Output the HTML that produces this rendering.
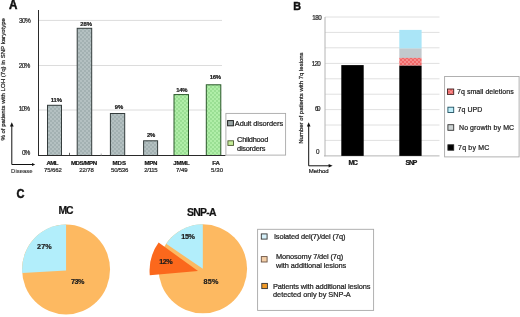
<!DOCTYPE html>
<html><head><meta charset="utf-8">
<style>
html,body{margin:0;padding:0;background:#fff;}
body{width:520px;height:317px;overflow:hidden;}
svg{display:block;font-family:"Liberation Sans",sans-serif;will-change:transform;}
text{stroke:#222;stroke-width:0.22px;}
</style></head>
<body>
<svg width="520" height="317" viewBox="0 0 520 317">
<defs>
<pattern id="pg" width="4" height="4" patternUnits="userSpaceOnUse">
<rect width="4" height="4" fill="#a3b1b2"/>
<circle cx="1" cy="1" r="0.9" fill="#bcc8c9"/>
<circle cx="3" cy="3" r="0.9" fill="#bcc8c9"/>
</pattern>
<pattern id="pgr" width="4" height="4" patternUnits="userSpaceOnUse">
<rect width="4" height="4" fill="#b0eea8"/>
<circle cx="1" cy="1" r="0.9" fill="#90d88a"/>
<circle cx="3" cy="3" r="0.9" fill="#90d88a"/>
</pattern>
<pattern id="pr" width="4" height="4" patternUnits="userSpaceOnUse">
<rect width="4" height="4" fill="#f06868"/>
<circle cx="1" cy="2" r="0.9" fill="#f8a0a0"/>
<circle cx="3" cy="0" r="0.9" fill="#f8a0a0"/>
<circle cx="3" cy="4" r="0.9" fill="#f8a0a0"/>
</pattern>
</defs>

<!-- ============ PANEL A ============ -->
<text x="9" y="8.6" font-size="12.5" font-weight="bold" fill="#111" style="stroke:#111;stroke-width:0.5px" textLength="8.4" lengthAdjust="spacingAndGlyphs">A</text>
<!-- gridlines -->
<g stroke="#dcdcdc" stroke-width="1">
<line x1="39" y1="20.4" x2="222" y2="20.4"/>
<line x1="39" y1="65.5" x2="222" y2="65.5"/>
<line x1="39" y1="110" x2="222" y2="110"/>
</g>
<!-- y labels -->
<g font-size="6.5" fill="#333" style="stroke-width:0.1px" lengthAdjust="spacingAndGlyphs">
<text x="19" y="22.9" textLength="11.8">30%</text>
<text x="18.8" y="67.9" textLength="11.6">20%</text>
<text x="18.8" y="111.2" textLength="11.2">10%</text>
<text x="22.1" y="154.9" textLength="8.2">0%</text>
</g>
<!-- bars -->
<g stroke="#343c3c" stroke-width="1">
<rect x="47.5" y="105.3" width="14" height="50.2" fill="url(#pg)"/>
<rect x="77.2" y="28.3" width="14.5" height="127.2" fill="url(#pg)"/>
<rect x="110.4" y="113.5" width="14.3" height="42" fill="url(#pg)"/>
<rect x="143.6" y="140.8" width="14" height="14.7" fill="url(#pg)"/>
</g>
<g stroke="#2a582a" stroke-width="1">
<rect x="174" y="94.6" width="14.5" height="60.9" fill="url(#pgr)"/>
<rect x="206.3" y="84.8" width="14.5" height="70.7" fill="url(#pgr)"/>
</g>
<!-- axes -->
<line x1="38.5" y1="10" x2="38.5" y2="156" stroke="#2a2a2a" stroke-width="1"/>
<line x1="38" y1="155.5" x2="225.5" y2="155.5" stroke="#2a2a2a" stroke-width="1"/>
<g stroke="#333" stroke-width="0.8">
<line x1="69.5" y1="152.8" x2="69.5" y2="155.5"/>
<line x1="101.2" y1="153.5" x2="101.2" y2="155.5" stroke="#999"/>
</g>
<!-- value labels -->
<g font-size="5.9" font-weight="bold" fill="#1a1a1a" stroke="#1a1a1a" stroke-width="0.2" lengthAdjust="spacingAndGlyphs">
<text x="50.8" y="102.2" textLength="11.2">11%</text>
<text x="80.2" y="25.5" textLength="11.8">28%</text>
<text x="114.8" y="109" textLength="8.4">9%</text>
<text x="146.9" y="136.9" textLength="8.4">2%</text>
<text x="176.3" y="91.7" textLength="11.3">14%</text>
<text x="209.8" y="79" textLength="11.3">16%</text>
</g>
<!-- category labels -->
<g font-size="6.1" font-weight="bold" fill="#111" style="stroke-width:0.1px" lengthAdjust="spacingAndGlyphs">
<text x="46.6" y="164.8" textLength="11.9">AML</text>
<text x="70.9" y="164.8" textLength="26.2">MDS/MPN</text>
<text x="112.5" y="164.8" textLength="13.5">MDS</text>
<text x="144.4" y="164.8" textLength="13">MPN</text>
<text x="173.3" y="164.8" textLength="16.5">JMML</text>
<text x="212.3" y="164.8" textLength="7.5">FA</text>
</g>
<g font-size="6" fill="#333" style="stroke-width:0.12px" lengthAdjust="spacingAndGlyphs">
<text x="44" y="172.3" textLength="17.9">75/662</text>
<text x="79.2" y="172.3" textLength="14.6">22/78</text>
<text x="111" y="172.3" textLength="17.3">50/536</text>
<text x="144.2" y="172.3" textLength="13.5">2/115</text>
<text x="176" y="172.3" textLength="11.5">7/49</text>
<text x="210.9" y="172.3" textLength="12.3">5/30</text>
</g>
<text x="11.1" y="173" font-size="6" fill="#333" style="stroke-width:0.12px" textLength="21.5" lengthAdjust="spacingAndGlyphs">Disease</text>
<!-- y axis title -->
<text transform="translate(4.6,140.6) rotate(-90)" font-size="6" fill="#222" textLength="122.6" lengthAdjust="spacingAndGlyphs">% of patients with LOH (7q) in  SNP karyotype</text>
<!-- arrow A -->
<path d="M11.8 125 V164.5 H33" fill="none" stroke="#111" stroke-width="1"/>
<path d="M11.8 122.3 L9.9 126.5 L13.7 126.5 Z" fill="#111"/>
<path d="M35.2 164.5 L32 162.9 L32 166.1 Z" fill="#111"/>
<!-- legend A -->
<rect x="225.9" y="113.4" width="59.7" height="41.7" fill="#fff" stroke="#a8a8a8" stroke-width="0.9"/>
<rect x="227.6" y="120.6" width="5.8" height="5.2" fill="#98a4a4" stroke="#222" stroke-width="1"/>
<rect x="227.9" y="140.8" width="5.6" height="4.6" fill="#c4ec98" stroke="#4a5a30" stroke-width="0.9"/>
<g font-size="7.4" fill="#222" lengthAdjust="spacingAndGlyphs">
<text x="234.8" y="126.1" textLength="48.3">Adult disorders</text>
<text x="237.1" y="142.2" textLength="31.2">Childhood</text>
<text x="237.1" y="150.8" textLength="28.3">disorders</text>
</g>

<!-- ============ PANEL B ============ -->
<text x="293.2" y="9.7" font-size="11" font-weight="bold" fill="#111" style="stroke:#111;stroke-width:0.45px" textLength="7.8" lengthAdjust="spacingAndGlyphs">B</text>
<g stroke="#e0e0e0" stroke-width="1">
<line x1="325" y1="17" x2="439.5" y2="17"/>
<line x1="325" y1="32.4" x2="439.5" y2="32.4"/>
<line x1="325" y1="47.8" x2="439.5" y2="47.8"/>
<line x1="325" y1="63.4" x2="439.5" y2="63.4"/>
<line x1="325" y1="78.8" x2="439.5" y2="78.8"/>
<line x1="325" y1="94.2" x2="439.5" y2="94.2"/>
<line x1="325" y1="109.6" x2="439.5" y2="109.6"/>
<line x1="325" y1="125" x2="439.5" y2="125"/>
<line x1="325" y1="140.4" x2="439.5" y2="140.4"/>
</g>
<line x1="325" y1="17" x2="325" y2="156.3" stroke="#b4b4b4" stroke-width="1"/>
<line x1="324" y1="155.9" x2="439.5" y2="155.9" stroke="#b4b4b4" stroke-width="1"/>
<g font-size="6.3" fill="#333" style="stroke:none" lengthAdjust="spacingAndGlyphs">
<text x="312.2" y="19.7" textLength="9.5">180</text>
<text x="311.7" y="65.9" textLength="9.1">120</text>
<text x="314.9" y="110.9" textLength="5.7">60</text>
<text x="316" y="154.2" textLength="3.2">0</text>
</g>
<!-- bars -->
<rect x="341.3" y="65.1" width="22.4" height="90.8" fill="#000"/>
<rect x="399.3" y="29.9" width="22.3" height="18.7" fill="#aae5f7"/>
<rect x="399.3" y="48.5" width="22.3" height="9.5" fill="#c2c9cd"/>
<rect x="399.3" y="57.9" width="22.3" height="7.8" fill="url(#pr)"/>
<rect x="399.3" y="65.7" width="22.3" height="90.2" fill="#000"/>
<g font-size="6.8" font-weight="bold" fill="#111" lengthAdjust="spacingAndGlyphs">
<text x="348.4" y="164.6" textLength="9.4">MC</text>
<text x="405.4" y="165" textLength="11.9">SNP</text>
</g>
<text transform="translate(302.6,143.7) rotate(-90)" font-size="6" fill="#222" textLength="91.3" lengthAdjust="spacingAndGlyphs">Number of patients with 7q lesions</text>
<!-- arrow B -->
<path d="M308.7 125 V165.8 H330" fill="none" stroke="#111" stroke-width="1"/>
<path d="M308.7 122.2 L306.9 126.4 L310.5 126.4 Z" fill="#111"/>
<path d="M332.6 165.8 L328.6 164 L328.6 167.6 Z" fill="#111"/>
<text x="308.7" y="172.6" font-size="6.1" fill="#222" textLength="20" lengthAdjust="spacingAndGlyphs">Method</text>
<!-- legend B -->
<rect x="444.6" y="76.5" width="74.5" height="80.4" fill="#fff" stroke="#a8a8a8" stroke-width="0.9"/>
<rect x="447.5" y="89" width="6.2" height="5.4" fill="url(#pr)" stroke="#402020" stroke-width="0.9"/>
<rect x="447.9" y="107.2" width="5.8" height="5.3" fill="#c0eefa" stroke="#205060" stroke-width="0.9"/>
<rect x="447.9" y="124.7" width="5.8" height="5.6" fill="#cdd3d3" stroke="#333" stroke-width="0.9"/>
<rect x="447.9" y="144.8" width="5.8" height="5.4" fill="#000" stroke="#222" stroke-width="0.9"/>
<g font-size="7" fill="#222" lengthAdjust="spacingAndGlyphs">
<text x="457.1" y="94.1" textLength="56.6">7q small deletions</text>
<text x="457.6" y="112.3" textLength="24.8">7q UPD</text>
<text x="459" y="130.2" textLength="55.1">No growth by MC</text>
<text x="458.1" y="150.1" textLength="31.2">7q by MC</text>
</g>

<!-- ============ PANEL C ============ -->
<text x="16.6" y="198" font-size="12.3" font-weight="bold" fill="#111" style="stroke:#111;stroke-width:0.45px" textLength="8" lengthAdjust="spacingAndGlyphs">C</text>
<g font-size="10.4" font-weight="bold" fill="#111" style="stroke:#111;stroke-width:0.3px" lengthAdjust="spacingAndGlyphs">
<text x="58.6" y="214" textLength="14.8">MC</text>
<text x="187" y="215.5" textLength="29.5">SNP-A</text>
</g>
<!-- MC pie -->
<ellipse cx="66.05" cy="269.5" rx="44" ry="44.9" fill="#fdb961"/>
<path d="M66.05 270.6 L66.05 224.6 A44 44.9 0 0 0 22.2 273 Z" fill="#b2eefb"/>
<!-- SNP pie -->
<ellipse cx="202.8" cy="268.8" rx="44.3" ry="44.55" fill="#fdb961"/>
<path d="M202.8 268.8 L202.8 224.25 A44.3 44.55 0 0 0 166.16 243.76 Z" fill="#b2eefb"/>
<path d="M198 271 L158.6 242.6 A48 48 0 0 0 149.8 275.3 Z" fill="#fb681c"/>
<g font-size="7.2" font-weight="bold" fill="#1a1a1a" style="stroke:#1a1a1a;stroke-width:0.35px" lengthAdjust="spacingAndGlyphs">
<text x="37.1" y="249.3" textLength="14.5">27%</text>
<text x="71" y="283.6" textLength="13.4">73%</text>
<text x="181.3" y="238.9" textLength="13.6">15%</text>
<text x="159.2" y="264.2" textLength="13.5">12%</text>
<text x="203.4" y="284.2" textLength="15">85%</text>
</g>
<!-- legend C -->
<rect x="257.6" y="229.3" width="116" height="81.1" fill="#fff" stroke="#a8a8a8" stroke-width="0.9"/>
<rect x="261.3" y="233.9" width="5.8" height="5.2" fill="#d6f1fa" stroke="#333" stroke-width="0.9"/>
<rect x="261.3" y="256.6" width="5.8" height="5.4" fill="#f3cfa8" stroke="#6a5040" stroke-width="0.9"/>
<rect x="261.8" y="283.4" width="5.6" height="5.2" fill="#f09a28" stroke="#333" stroke-width="0.9"/>
<g font-size="7.4" fill="#222" lengthAdjust="spacingAndGlyphs">
<text x="273.9" y="238.9" textLength="71.5">Isolated del(7)/del (7q)</text>
<text x="276" y="259.4" textLength="67.3">Monosomy 7/del (7q)</text>
<text x="276" y="267.8" textLength="70.3">with additional lesions</text>
<text x="273" y="288.5" textLength="97.4">Patients with additional lesions</text>
<text x="273" y="297" textLength="77.8">detected only by SNP-A</text>
</g>
</svg>
</body></html>
